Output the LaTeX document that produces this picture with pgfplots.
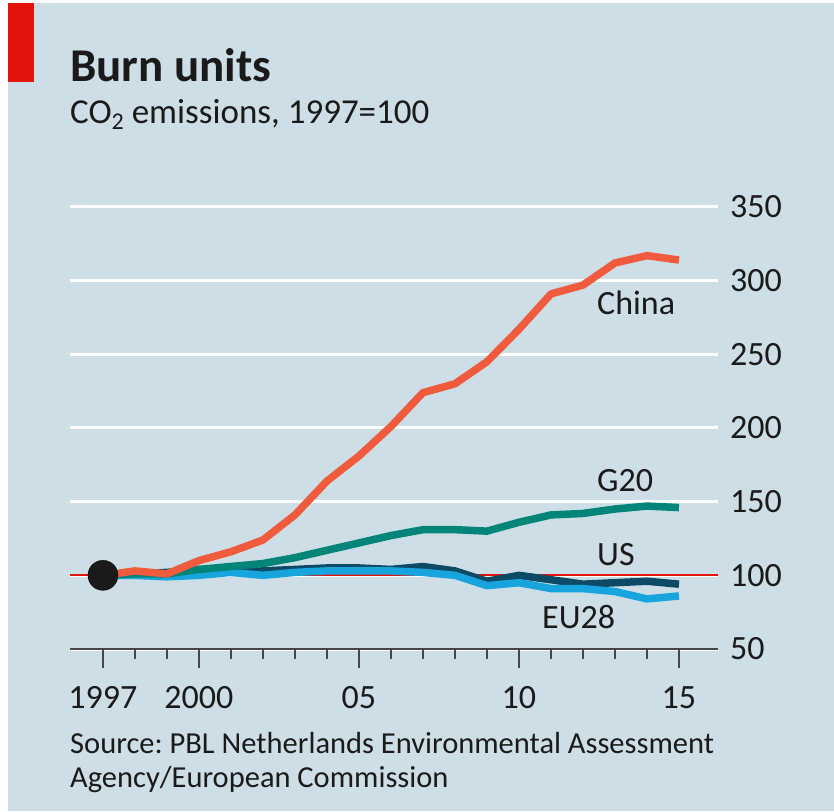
\documentclass[border=0pt]{standalone}
\usepackage{pgfplots}
\pgfplotsset{compat=1.18}
\usepackage{fontspec}
\setmainfont{Carlito}
\frenchspacing
\definecolor{bg}{RGB}{206,222,230}
\definecolor{ecored}{RGB}{227,18,11}
\definecolor{txt}{RGB}{26,26,26}
\definecolor{axgray}{RGB}{70,70,70}
\definecolor{china}{RGB}{239,91,60}
\definecolor{gtwenty}{RGB}{0,133,120}
\definecolor{usc}{RGB}{13,74,102}
\definecolor{euc}{RGB}{24,164,220}
\begin{document}
\begin{tikzpicture}[x=1pt,y=1pt]
\useasboundingbox (0,0) rectangle (834,811);
\fill[white] (0,0) rectangle (834,811);
\fill[bg] (8,0) rectangle (834,808);
\fill[ecored] (8,729) rectangle (34,808);
\node[anchor=base west, inner sep=0, font=\fontsize{47}{47}\selectfont\bfseries, text=txt] at (70,729) {Burn units};
\node[anchor=base west, inner sep=0, font=\fontsize{35}{35}\selectfont, text=txt] at (70,687) {CO\raisebox{-6pt}{\fontsize{24}{24}\selectfont 2} emissions, 1997=100};
\begin{axis}[
  at={(70pt,162pt)}, anchor=south west,
  width=648pt, height=442pt, scale only axis,
  xmin=1995.97, xmax=2016.22, ymin=50, ymax=350,
  clip=false,
  axis x line*=bottom, axis y line*=right,
  x axis line style={draw=none},
  y axis line style={draw=none},
  xtick={1997,2000,2005,2010,2015},
  xticklabels={1997,2000,05,10,15},
  minor xtick={1998,1999,2001,2002,2003,2004,2006,2007,2008,2009,2011,2012,2013,2014},
  ytick={50,100,...,350},
  tick align=outside,
  major tick length=19pt, minor tick length=10pt,
  xtick style={axgray, line width=2pt},
  minor x tick style={axgray, line width=2pt},
  ytick style={draw=none},
  ymajorgrids, grid style={white, line width=3pt},
  /pgf/number format/assume math mode=true,
  tick label style={font=\fontsize{34}{34}\selectfont, color=txt},
  xticklabel style={anchor=base, inner sep=0pt, yshift=-40pt},
  yticklabel style={anchor=west, inner sep=0pt, xshift=-7pt},
  line join=round,
]
\addplot[ecored, line width=2pt] coordinates {(1995.97,100) (2016.22,100)};
\addplot[usc, line width=7.5pt] coordinates {
(1997,100) (1998,101) (1999,102) (2000,104) (2001,102) (2002,103) (2003,104) (2004,105) (2005,105) (2006,104) (2007,106) (2008,103) (2009,96) (2010,100) (2011,97) (2012,94) (2013,95) (2014,96) (2015,94)};
\addplot[euc, line width=7.5pt] coordinates {
(1997,100) (1998,100) (1999,99) (2000,100) (2001,102) (2002,100) (2003,102) (2004,103) (2005,103) (2006,103) (2007,102) (2008,100) (2009,93) (2010,95) (2011,91) (2012,91) (2013,89) (2014,84) (2015,86)};
\addplot[gtwenty, line width=7.5pt] coordinates {
(1997,100) (1998,101) (1999,101) (2000,104) (2001,106) (2002,108) (2003,112) (2004,117) (2005,122) (2006,127) (2007,131) (2008,131) (2009,130) (2010,136) (2011,141) (2012,142) (2013,145) (2014,147) (2015,146)};
\addplot[china, line width=7.5pt] coordinates {
(1997,100) (1998,103) (1999,101) (2000,110) (2001,116) (2002,124) (2003,141) (2004,164) (2005,181) (2006,201) (2007,224) (2008,230) (2009,245) (2010,267) (2011,291) (2012,297) (2013,312) (2014,317) (2015,314)};
\addplot[only marks, mark=*, mark size=15pt, mark options={fill=txt, draw=none}] coordinates {(1997,100)};
\draw[axgray, line width=2pt] (rel axis cs:0,0) -- (rel axis cs:1,0);
\end{axis}
\begin{scope}[every node/.style={anchor=base west, inner sep=0, font=\fontsize{34}{34}\selectfont, text=txt}]
\node at (597,496) {China};
\node at (597,319) {G20};
\node at (597,245) {US};
\node at (542,183) {EU28};
\end{scope}
\begin{scope}[every node/.style={anchor=base west, inner sep=0, font=\fontsize{30.5}{30.5}\selectfont, text=txt}]
\node at (70,58) {Source: PBL Netherlands Environmental Assessment};
\node at (70,24) {Agency/European Commission};
\end{scope}
\end{tikzpicture}
\end{document}
